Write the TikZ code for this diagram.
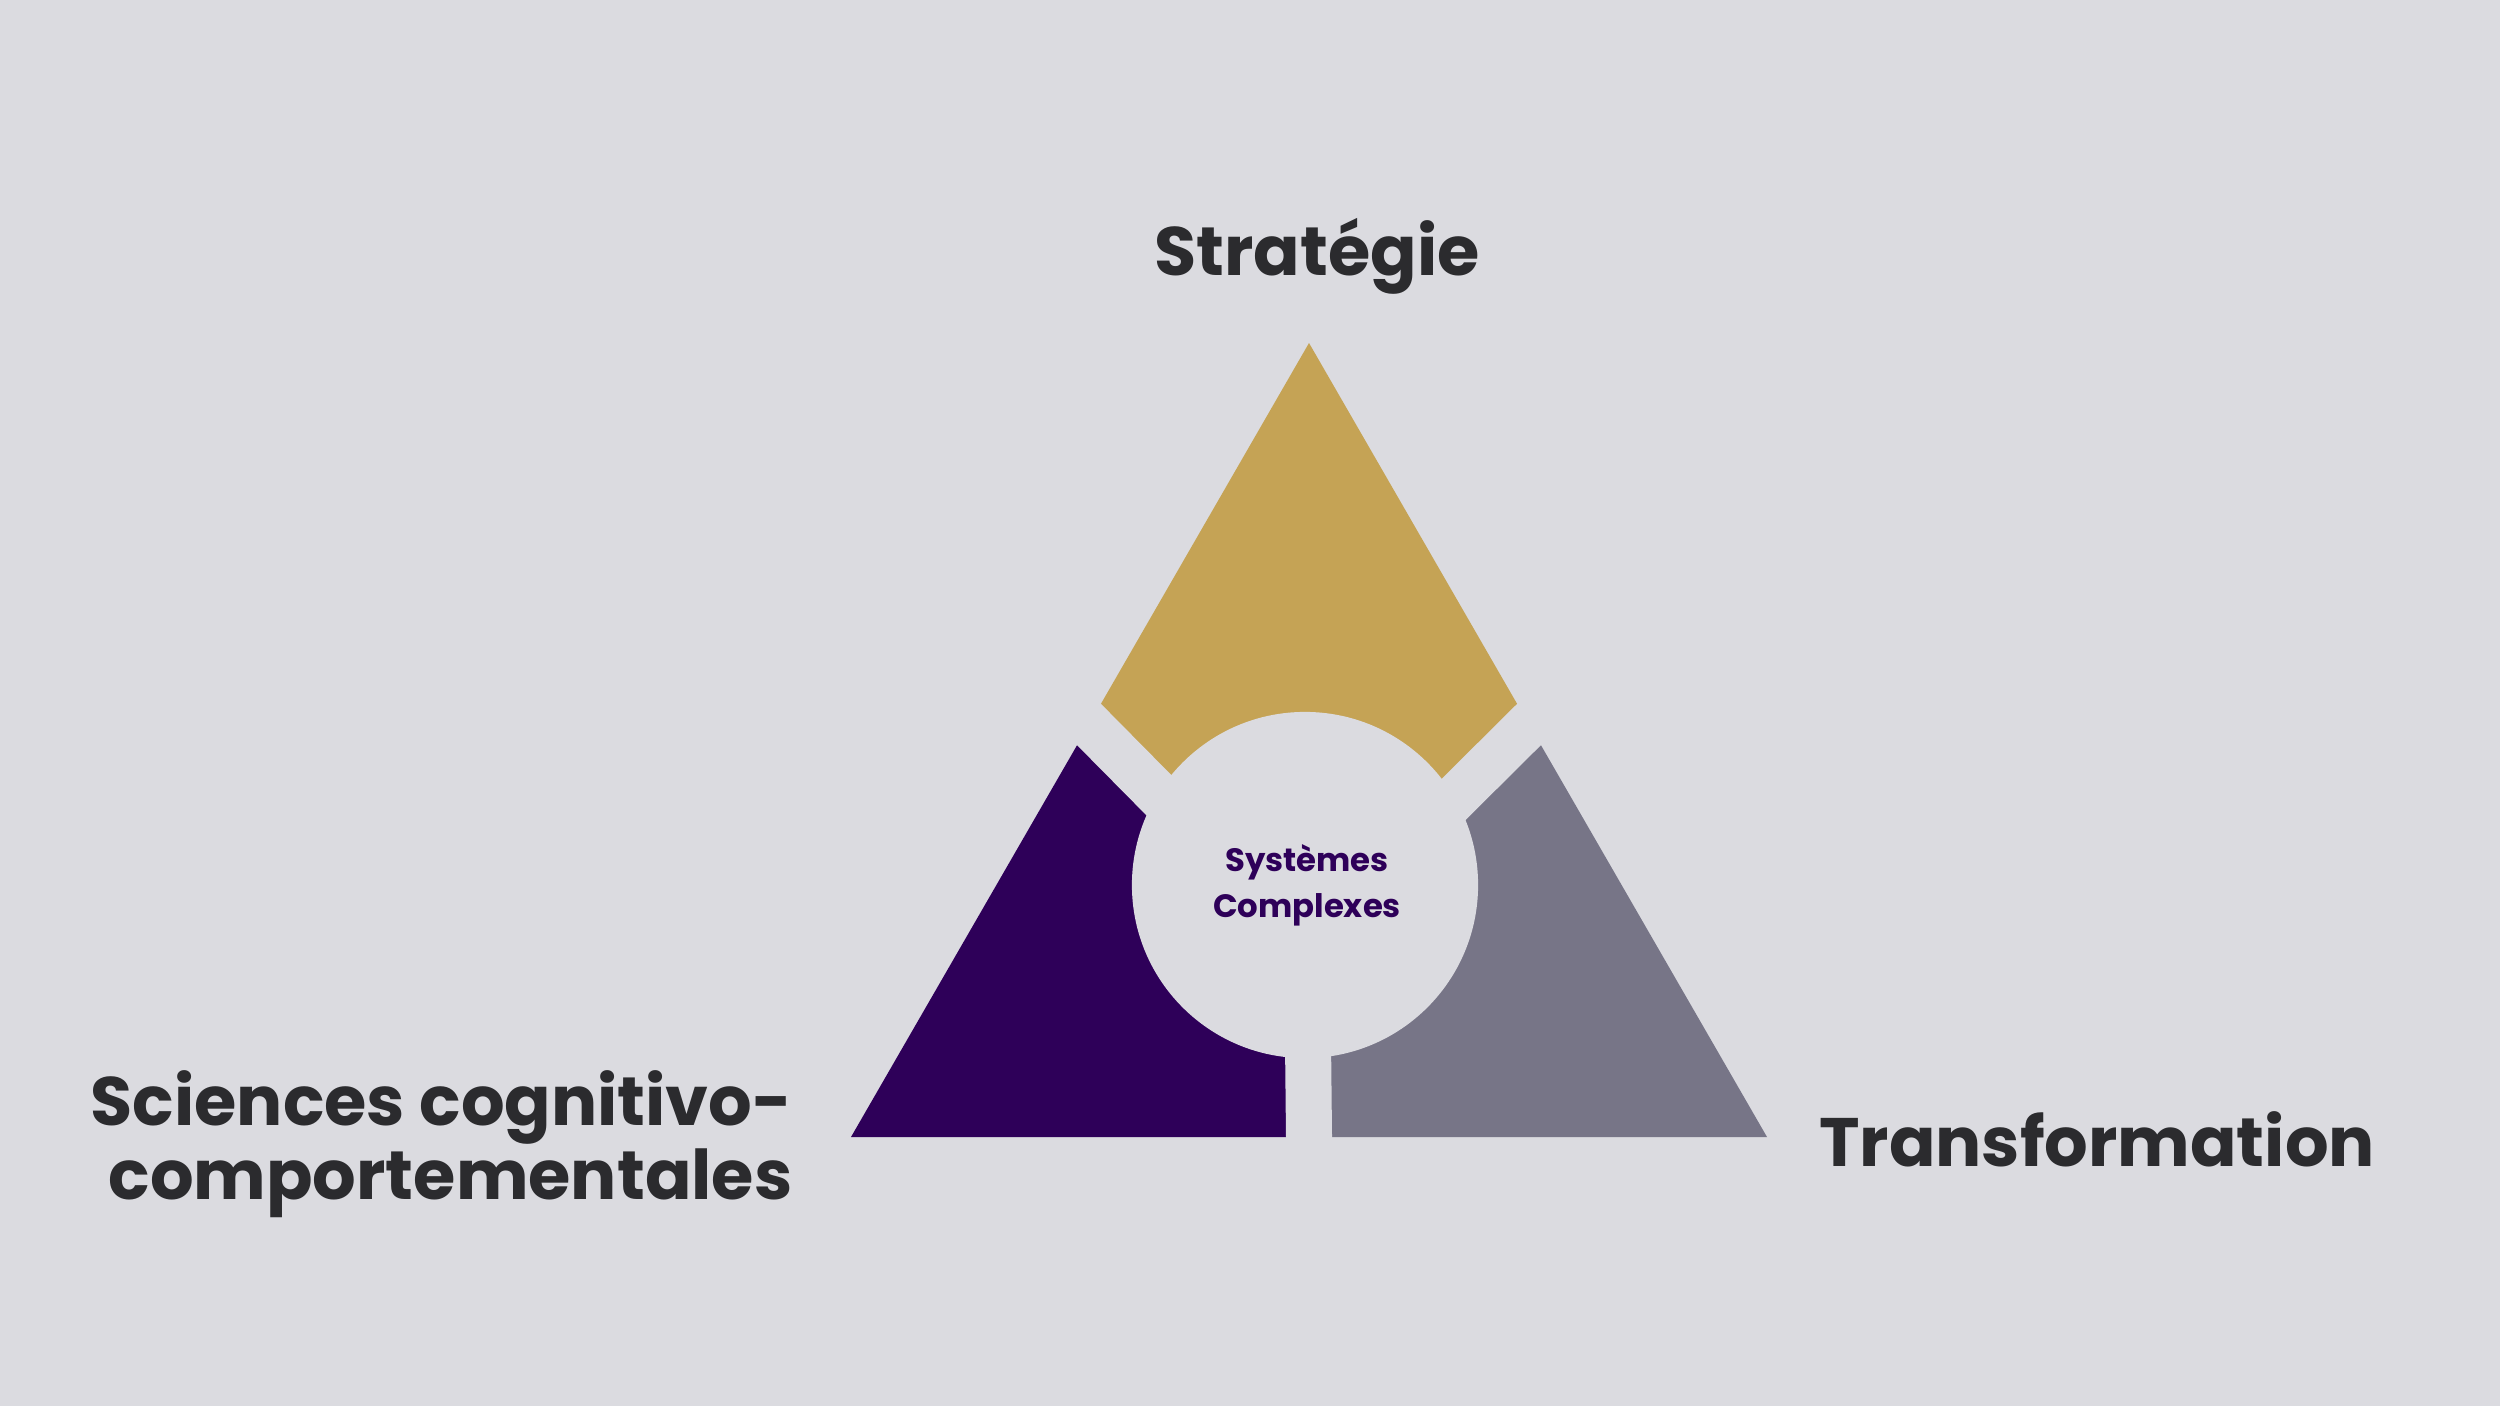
\documentclass[tikz,border=0pt]{standalone}
\usepackage{fontspec}
\setmainfont{Poppins}
\usetikzlibrary{calc}
\definecolor{slidebg}{RGB}{219,219,224}
\definecolor{gold}{RGB}{197,163,85}
\definecolor{deeppurple}{RGB}{46,0,89}
\definecolor{slate}{RGB}{119,117,135}
\definecolor{ink}{RGB}{43,43,46}
\begin{document}
\begin{tikzpicture}[x=0.01cm, y=-0.01cm,
labelnode/.style={font=\bfseries\fontsize{19.5}{19}\selectfont, text=ink, inner sep=0pt},
corenode/.style={circle, fill=slidebg, minimum size=3.46cm, inner sep=0pt},
coretext/.style={align=center, text=deeppurple, inner sep=0pt, font=\bfseries\fontsize{9.2}{13}\selectfont},
gapline/.style={slidebg, line width=0.46cm},
]
    \fill[slidebg] (0,0) rectangle (2500,1406);
    \useasboundingbox (0,0) rectangle (2500,1406);

    \coordinate (apex) at (1309,343);
    \coordinate (bl) at (851,1137);
    \coordinate (br) at (1767,1137);
    \coordinate (lcut) at (1089,724.5);
    \coordinate (rcut) at (1529,724.5);
    \coordinate (bcut) at (1309,1137);
    \coordinate (hub) at (1307,945);

    \fill[gold] (apex) -- (lcut) -- (hub) -- (rcut) -- cycle;
    \fill[deeppurple] (lcut) -- (bl) -- (bcut) -- (hub) -- cycle;
    \fill[slate] (rcut) -- (br) -- (bcut) -- (hub) -- cycle;

    \draw[gapline] (hub) -- ($(hub)!1.2!(lcut)$);
    \draw[gapline] (hub) -- ($(hub)!1.2!(rcut)$);
    \draw[gapline] (hub) -- ($(hub)!1.2!(bcut)$);

    \node[corenode] (core) at (1305,885) {};
    \node[coretext, anchor=base] (sys) at (1307,917) {Systèmes\\Complexes};

    \node[labelnode, anchor=base] (strat) at (1317,275) {Stratégie};
    \node[labelnode, anchor=base] (transf) at (2097,1166) {Transformation};
    \node[labelnode, anchor=base east, align=right] (sciences) at (793,1199) {Sciences cognitivo-\\comportementales};
\end{tikzpicture}
\end{document}
